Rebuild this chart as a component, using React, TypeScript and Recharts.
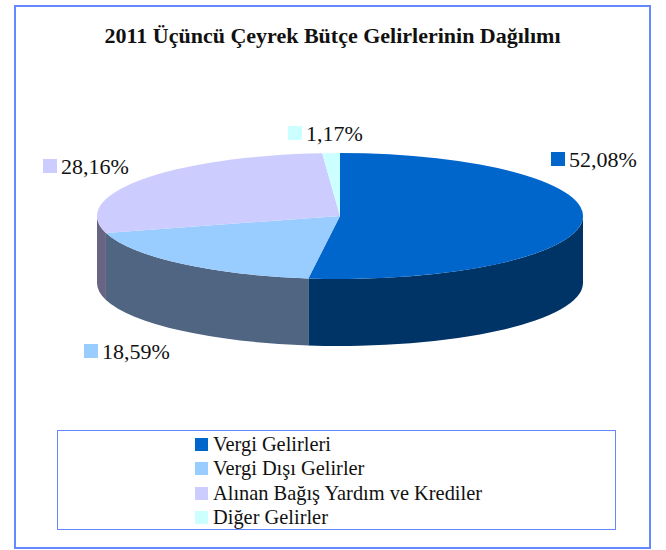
import { Legend, Pie, PieChart } from "recharts";

const NAMES = ["Vergi Gelirleri", "Vergi Dışı Gelirler", "Alınan Bağış Yardım ve Krediler", "Diğer Gelirler"];
const VALUES = [52.08, 18.59, 28.16, 1.17];
const COLORS = ["#0066cc", "#99ccff", "#ccccff", "#ccffff"];
const SIDE_COLORS = ["#003366", "#4f6581", "#686584", "#668080"];

// where each data label sits, hand placed like the original
const LABEL_POS = [
  { x: 551, y: 152 },
  { x: 84, y: 344 },
  { x: 43, y: 159 },
  { x: 288, y: 126 },
];

const FONT = "'Liberation Serif', serif";
const FRAME = "#6688ff";
const SQUASH = 63 / 243;
const DEPTH = 67;

const data = NAMES.map((name, i) => ({ name, value: VALUES[i], fill: COLORS[i], side: SIDE_COLORS[i] }));

const point = (cx: number, cy: number, r: number, deg: number) => {
  const a = (deg * Math.PI) / 180;
  return [cx + r * Math.cos(a), cy - r * SQUASH * Math.sin(a)];
};

// Pie hands over a flat sector; draw it squashed, with its wall if it faces front
function Slice(props: any) {
  const { cx, cy, outerRadius: r, startAngle, endAngle, fill, side } = props;
  const ry = r * SQUASH;
  const [x0, y0] = point(cx, cy, r, startAngle);
  const [x1, y1] = point(cx, cy, r, endAngle);
  const large = Math.abs(startAngle - endAngle) > 180 ? 1 : 0;

  const wallStart = Math.min(startAngle, 0);
  const wallEnd = Math.max(endAngle, -180);
  let wall = null;
  if (wallStart > wallEnd) {
    const [a0, b0] = point(cx, cy, r, wallStart);
    const [a1, b1] = point(cx, cy, r, wallEnd);
    wall = (
      <path
        d={`M${a0},${b0} A${r},${ry} 0 0 1 ${a1},${b1} L${a1},${b1 + DEPTH} A${r},${ry} 0 0 0 ${a0},${b0 + DEPTH} Z`}
        fill={side}
      />
    );
  }
  return (
    <g>
      {wall}
      <path d={`M${cx},${cy} L${x0},${y0} A${r},${ry} 0 ${large} 1 ${x1},${y1} Z`} fill={fill} />
    </g>
  );
}

function SliceLabel({ index }: any) {
  const pos = LABEL_POS[index];
  return (
    <g>
      <rect x={pos.x} y={pos.y} width={14} height={14} fill={COLORS[index]} />
      <text x={pos.x + 18} y={pos.y + 15} fontFamily={FONT} fontSize={22} fill="#111">
        {VALUES[index].toFixed(2).replace(".", ",")}%
      </text>
    </g>
  );
}

function LegendBox() {
  return (
    <div
      style={{
        width: 559,
        height: 100,
        boxSizing: "border-box",
        border: `1px solid ${FRAME}`,
        paddingLeft: 137,
        paddingTop: 1,
        fontFamily: FONT,
        fontSize: 20.4,
        color: "#111",
      }}
    >
      {data.map((d) => (
        <div key={d.name} style={{ display: "flex", alignItems: "center", height: 24.5, whiteSpace: "nowrap" }}>
          <span style={{ width: 13, height: 13, background: d.fill, marginRight: 5 }} />
          {d.name}
        </div>
      ))}
    </div>
  );
}

export default function App() {
  return (
    <div style={{ position: "absolute", left: 0, top: 0, width: 666, height: 550, background: "#fff" }}>
      <div
        style={{
          position: "absolute",
          left: 14,
          top: 5,
          width: 637,
          height: 544,
          boxSizing: "border-box",
          border: `2px solid ${FRAME}`,
        }}
      />
      <div
        style={{
          position: "absolute",
          left: 14,
          width: 637,
          top: 23,
          textAlign: "center",
          fontFamily: FONT,
          fontWeight: "bold",
          fontSize: 22,
          color: "#111",
        }}
      >
        2011 Üçüncü Çeyrek Bütçe Gelirlerinin Dağılımı
      </div>
      <div style={{ position: "absolute", left: 0, top: 0 }}>
        <PieChart width={666} height={550} margin={{ top: 0, right: 0, bottom: 0, left: 0 }}>
          <Pie
            data={data}
            dataKey="value"
            nameKey="name"
            cx={340}
            cy={216}
            innerRadius={0}
            outerRadius={243}
            startAngle={90}
            endAngle={-270}
            stroke="none"
            shape={Slice}
            label={SliceLabel}
            labelLine={false}
            isAnimationActive={false}
          />
          <Legend
            content={LegendBox}
            wrapperStyle={{ position: "absolute", left: 57, top: 430, width: 559, bottom: "auto" }}
          />
        </PieChart>
      </div>
    </div>
  );
}
